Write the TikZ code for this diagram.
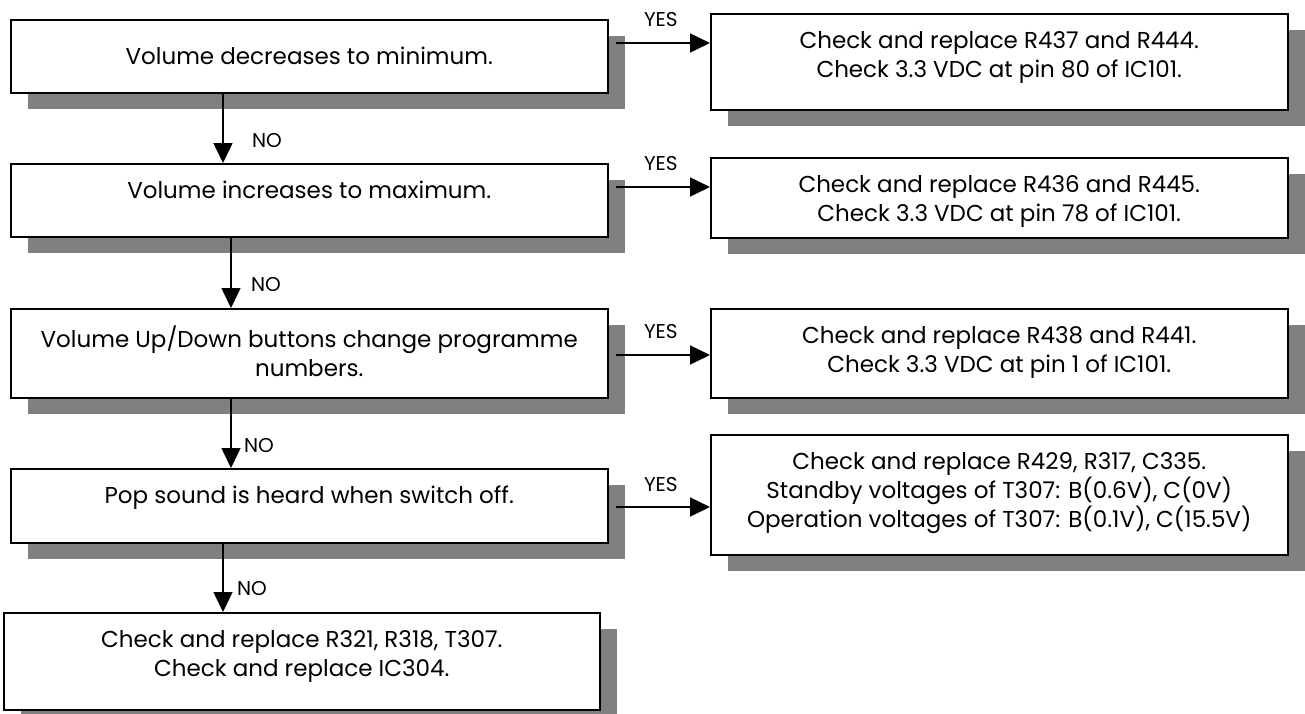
\documentclass[tikz,border=0pt]{standalone}
\usepackage{fontspec}
\setmainfont{Poppins}
\usetikzlibrary{arrows.meta,shadows}

\definecolor{shade}{HTML}{808080}

\begin{document}
\begin{tikzpicture}[x=1pt,y=-1pt,
		box/.style={draw=black,line width=1.5pt,fill=white,anchor=north west,inner sep=0pt,
			drop shadow={shadow xshift=17pt,shadow yshift=-16pt,fill=shade,opacity=1}},
		txt/.style={anchor=north,inner sep=0pt,align=center,yshift=-18pt,font=\fontsize{23}{29}\selectfont},
		flow/.style={line width=1.5pt,-{Triangle[length=20pt,width=19pt]}},
		lbl/.style={inner sep=0pt,font=\fontsize{20}{23}\selectfont}]
		\useasboundingbox (0,0) rectangle (1305,713);
		% left column: the checks
		\node[box,minimum width=597pt,minimum height=73pt,label={[txt,yshift=-10pt]north:Volume decreases to minimum.}] (b1) at (10,19) {};
		\node[box,minimum width=597pt,minimum height=73pt,label={[txt]north:Volume increases to maximum.}] (b2) at (10,163) {};
		\node[box,minimum width=597pt,minimum height=89pt,label={[txt]north:{Volume Up/Down buttons change programme\\numbers.}}] (b3) at (10,308) {};
		\node[box,minimum width=597pt,minimum height=74pt,label={[txt]north:Pop sound is heard when switch off.}] (b4) at (10,468) {};
		\node[box,minimum width=596pt,minimum height=97pt,label={[txt]north:{Check and replace R321, R318, T307.\\Check and replace IC304.}}] (b5) at (3,612) {};
		% right column: the repairs
		\node[box,minimum width=577pt,minimum height=96pt,label={[txt]north:{Check and replace R437 and R444.\\Check 3.3 VDC at pin 80 of IC101.}}] (r1) at (710,13) {};
		\node[box,minimum width=577pt,minimum height=80pt,label={[txt]north:{Check and replace R436 and R445.\\Check 3.3 VDC at pin 78 of IC101.}}] (r2) at (710,157) {};
		\node[box,minimum width=577pt,minimum height=89pt,label={[txt]north:{Check and replace R438 and R441.\\Check 3.3 VDC at pin 1 of IC101.}}] (r3) at (710,308) {};
		\node[box,minimum width=577pt,minimum height=120pt,label={[txt]north:{Check and replace R429, R317, C335.\\Standby voltages of T307: B(0.6V), C(0V)\\Operation voltages of T307: B(0.1V), C(15.5V)}}] (r4) at (710,434) {};
		% YES branches
		\draw[flow] ([xshift=7pt]b1.east |- 0,43) -- (r1.west |- 0,43) node[lbl,pos=.48,yshift=23pt] {YES};
		\draw[flow] ([xshift=7pt]b2.east |- 0,187) -- (r2.west |- 0,187) node[lbl,pos=.48,yshift=23pt] {YES};
		\draw[flow] ([xshift=7pt]b3.east |- 0,355) -- (r3.west |- 0,355) node[lbl,pos=.48,yshift=23pt] {YES};
		\draw[flow] ([xshift=7pt]b4.east |- 0,507) -- (r4.west |- 0,507) node[lbl,pos=.48,yshift=23pt] {YES};
		% NO branches
		\draw[flow] (b1.south -| 223,0) -- (b2.north -| 223,0) node[lbl,pos=.67,xshift=44pt] {NO};
		\draw[flow] (b2.south -| 231,0) -- (b3.north -| 231,0) node[lbl,pos=.67,xshift=35pt] {NO};
		\draw[flow] (b3.south -| 231,0) -- (b4.north -| 231,0) node[lbl,pos=.68,xshift=28pt] {NO};
		\draw[flow] (b4.south -| 223,0) -- (b5.north -| 223,0) node[lbl,pos=.66,xshift=29pt] {NO};
	\end{tikzpicture}
\end{document}
